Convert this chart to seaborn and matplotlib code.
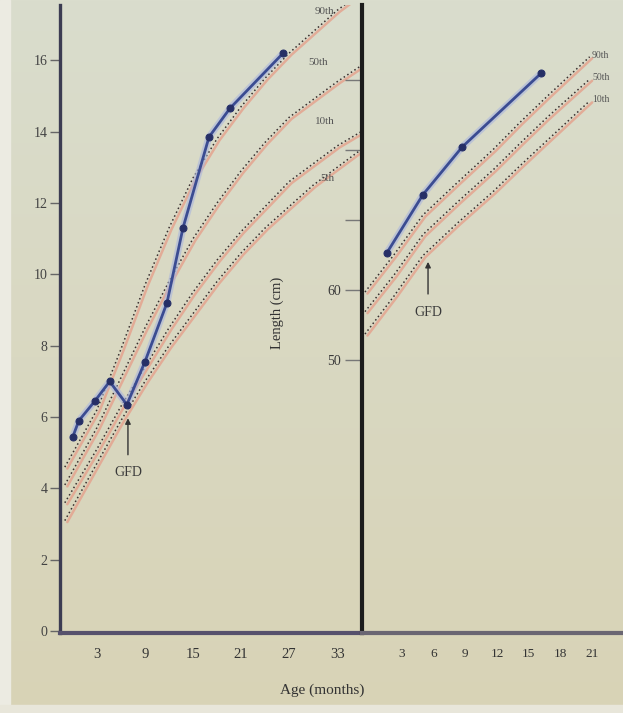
import numpy as np
import pandas as pd
import matplotlib
matplotlib.use("Agg")
import matplotlib.pyplot as plt
import seaborn as sns
from matplotlib import transforms
from matplotlib.patches import Rectangle

# ---------------- data ----------------
# Left panel: weight (kg) vs age (months)
w_ages = [-1, 3, 6, 9, 12, 15, 18, 21, 24, 27, 30, 33, 36]
w_p90 = [4.6, 6.2, 7.9, 9.7, 11.3, 12.7, 13.8, 14.7, 15.5, 16.2, 16.8, 17.4, 17.9]
w_p50 = [4.1, 5.7, 7.1, 8.5, 9.8, 11.0, 12.0, 12.9, 13.7, 14.4, 14.9, 15.4, 15.85]
w_p10 = [3.6, 5.1, 6.3, 7.4, 8.5, 9.5, 10.4, 11.2, 11.9, 12.6, 13.1, 13.6, 14.0]
w_p5 = [3.1, 4.7, 5.9, 7.0, 8.0, 8.9, 9.8, 10.6, 11.3, 11.9, 12.5, 13.0, 13.5]
w_labels = ["90th", "50th", "10th", "5th"]

child_w_age = [0, 0.75, 2.75, 4.6, 6.75, 9.0, 11.75, 13.75, 17.0, 19.6, 26.25]
child_w = [5.45, 5.9, 6.45, 7.0, 6.35, 7.55, 9.2, 11.3, 13.85, 14.65, 16.2]

# Right panel: length (cm) vs age (months)
l_ages = [-0.47, 2.26, 5.0, 8.3, 11.6, 14.15, 16.7, 20.75]
l_p90 = [59.7, 65.0, 70.7, 75.4, 80.0, 83.9, 87.6, 93.3]
l_p50 = [56.9, 62.1, 67.9, 72.6, 77.1, 80.9, 84.6, 90.1]
l_p10 = [53.7, 59.1, 64.9, 69.6, 74.0, 77.7, 81.3, 87.0]
l_labels = ["90th", "50th", "10th"]

child_l_age = [1.6, 5.0, 8.7, 16.2]
child_l = [65.3, 73.6, 80.4, 91.0]

w_xticks = [3, 9, 15, 21, 27, 33]
w_yticks = [0, 2, 4, 6, 8, 10, 12, 14, 16]
l_xticks = [3, 6, 9, 12, 15, 18, 21]
l_yticks = [50, 60, 70, 80, 90]
l_yticklabels = ["50", "60", "", "", ""]

# ---------------- style ----------------
sns.set_style("white")
plt.rcParams["font.family"] = ["Liberation Serif", "DejaVu Serif"]

W, H = 623, 713
fig = plt.figure(figsize=(W / 100, H / 100), dpi=100)

# photo-like background gradient
top_c = np.array([218, 221, 205]) / 255
bot_c = np.array([216, 211, 182]) / 255
t = np.linspace(0, 1, H)[:, None, None]
grad = (top_c * (1 - t) + bot_c * t) * np.ones((H, W, 3))
fig.figimage(grad, 0, 0, origin="upper", zorder=-10)
fig.patches.append(Rectangle((0, 0), 10 / W, 1, transform=fig.transFigure,
                             color="#ecebe2", zorder=-5))
fig.patches.append(Rectangle((0, 0), 1, 8 / H, transform=fig.transFigure,
                             color="#e8e6da", zorder=-5))

axL = fig.add_axes([60 / W, 80 / H, 302 / W, 628 / H])
axR = fig.add_axes([362 / W, 80 / H, 261 / W, 628 / H])
for ax in (axL, axR):
    ax.set_facecolor("none")
    for s in ("top", "right"):
        ax.spines[s].set_visible(False)

pink = "#e4a48f"
dotc = "#3a2f2f"
blue = "#3b4c92"


def draw_curves(ax, ages, curves):
    off = transforms.offset_copy(ax.transData, fig=fig, x=2.5, y=-1.5, units="dots")
    for c in curves:
        df = pd.DataFrame({"age": ages, "val": c})
        sns.lineplot(data=df, x="age", y="val", ax=ax, color=pink, lw=1.8,
                     alpha=0.85, transform=off, estimator=None, sort=False)
        sns.lineplot(data=df, x="age", y="val", ax=ax, color=dotc, lw=1.1,
                     linestyle=(0, (1, 1.8)), estimator=None, sort=False)


def draw_child(ax, ages, vals):
    df = pd.DataFrame({"age": ages, "val": vals})
    sns.lineplot(data=df, x="age", y="val", ax=ax, color="#aab5de", lw=5,
                 alpha=0.6, estimator=None, sort=False)
    sns.lineplot(data=df, x="age", y="val", ax=ax, color=blue, lw=2.0,
                 marker="o", markersize=5, markerfacecolor="#262f66",
                 markeredgecolor="#262f66", estimator=None, sort=False)


# ---- left panel (weight) ----
draw_curves(axL, w_ages, [w_p90, w_p50, w_p10, w_p5])
draw_child(axL, child_w_age, child_w)
axL.set_xlim(-1.6, 36.1)
axL.set_ylim(-0.05, 17.55)
axL.set_xticks(w_xticks)
axL.set_yticks(w_yticks)
axL.set_xlabel("")
axL.set_ylabel("")
axL.spines["left"].set_linewidth(2.4)
axL.spines["left"].set_color("#3c3c52")
axL.spines["bottom"].set_linewidth(3)
axL.spines["bottom"].set_color("#56516c")
axL.tick_params(axis="y", length=7, width=1, color="#666", pad=2,
                labelsize=10, labelcolor="#444", left=True)
axL.tick_params(axis="x", length=0, pad=11, labelsize=10.5, labelcolor="#333")

lab_pos = [(0.877, 0.99), (0.854, 0.909), (0.877, 0.814), (0.887, 0.724)]
for (px, py), lab in zip(lab_pos, w_labels):
    axL.text(px, py, lab, transform=axL.transAxes, fontsize=8, color="#555",
             ha="center", va="center", clip_on=False)

axL.annotate("GFD", xy=(0.225, 0.342), xycoords="axes fraction",
             xytext=(0.225, 0.255), textcoords="axes fraction",
             ha="center", va="center", fontsize=10, color="#3a3a3a",
             arrowprops=dict(arrowstyle="-|>", color="#333", lw=1,
                             shrinkA=6, shrinkB=0, mutation_scale=8))

# ---- right panel (length) ----
draw_curves(axR, l_ages, [l_p90, l_p50, l_p10])
draw_child(axR, child_l_age, child_l)
axR.set_xlim(-0.75, 23.9)
axR.set_ylim(11, 100.7)
axR.set_xticks(l_xticks)
axR.set_yticks(l_yticks)
axR.set_yticklabels(l_yticklabels)
axR.set_xlabel("")
axR.set_ylabel("Length (cm)", fontsize=10.5, color="#333")
axR.yaxis.set_label_coords(-0.30, 0.51)
axR.spines["left"].set_linewidth(3)
axR.spines["left"].set_color("#1c1c1c")
axR.spines["bottom"].set_linewidth(3)
axR.spines["bottom"].set_color("#6a6672")
axR.tick_params(axis="y", length=12, width=1, color="#777", pad=3,
                labelsize=10, labelcolor="#3a3a3a", left=True)
axR.tick_params(axis="x", length=0, pad=11, labelsize=9.5, labelcolor="#333")

rlab_pos = [(0.881, 0.919), (0.881, 0.884), (0.881, 0.849)]
for (px, py), lab in zip(rlab_pos, l_labels):
    axR.text(px, py, lab, transform=axR.transAxes, fontsize=7, color="#555",
             ha="left", va="center", clip_on=False)

axR.annotate("GFD", xy=(0.253, 0.591), xycoords="axes fraction",
             xytext=(0.253, 0.511), textcoords="axes fraction",
             ha="center", va="center", fontsize=10, color="#3a3a3a",
             arrowprops=dict(arrowstyle="-|>", color="#333", lw=1,
                             shrinkA=6, shrinkB=0, mutation_scale=8))

fig.text(322 / W, 23 / H, "Age (months)", ha="center", va="center",
         fontsize=11, color="#333")

fig.savefig("out.png", dpi=100)
